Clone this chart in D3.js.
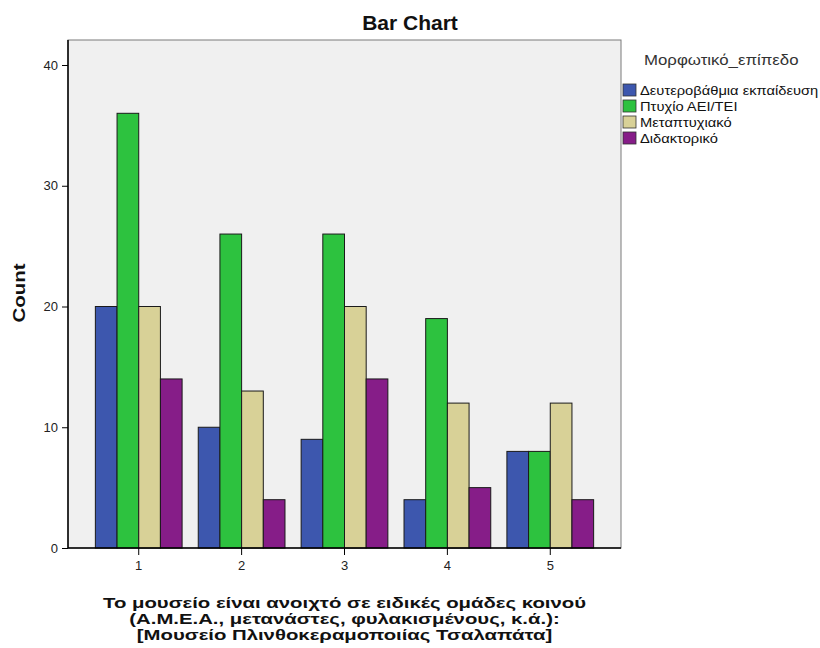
<!DOCTYPE html>
<html>
<head>
<meta charset="utf-8">
<script src="https://cdn.jsdelivr.net/npm/d3@7"></script>
<style>
  html, body { margin: 0; padding: 0; background: #ffffff; }
  svg { display: block; font-family: "Liberation Sans", Arial, sans-serif; }
</style>
</head>
<body>
<svg id="chart" width="820" height="648"></svg>
<script>
// ---- data ----
const categories = ["1", "2", "3", "4", "5"];
const seriesNames = ["Δευτεροβάθμια εκπαίδευση", "Πτυχίο ΑΕΙ/ΤΕΙ", "Μεταπτυχιακό", "Διδακτορικό"];
const secondaryEdu = [20, 10, 9, 4, 8];
const degreeAEI = [36, 26, 26, 19, 8];
const masters = [20, 13, 20, 12, 12];
const doctorate = [14, 4, 14, 5, 4];
const yTicks = [0, 10, 20, 30, 40];
const seriesColors = ["#3d57ae", "#2dc23f", "#d8d197", "#861d88"];
const chartTitle = "Bar Chart";
const legendTitle = "Μορφωτικό_επίπεδο";
const yTitle = "Count";
const xTitleLines = [
  "Το μουσείο είναι ανοιχτό σε ειδικές ομάδες κοινού",
  "(Α.Μ.Ε.Α., μετανάστες, φυλακισμένους, κ.ά.):",
  "[Μουσείο Πλινθοκεραμοποιίας Τσαλαπάτα]"
];

const seriesValues = [secondaryEdu, degreeAEI, masters, doctorate];
const rows = categories.map((c, i) => ({
  cat: c,
  vals: seriesNames.map((s, j) => ({ key: s, idx: j, value: seriesValues[j][i] }))
}));

// stretch text horizontally by a factor (keeps it real text)
function stretch(sel, factor) {
  sel.each(function () {
    const w = this.getComputedTextLength();
    d3.select(this).attr("textLength", w * factor).attr("lengthAdjust", "spacingAndGlyphs");
  });
}

const svg = d3.select("#chart");
const plot = { left: 68, right: 621, top: 40, bottom: 548 };

// plot background
svg.append("rect")
  .attr("x", plot.left).attr("y", plot.top)
  .attr("width", plot.right - plot.left).attr("height", plot.bottom - plot.top)
  .attr("fill", "#f0f0f0").attr("stroke", "#7a7a7a").attr("stroke-width", 1);

const x0 = d3.scaleBand().domain(categories).range([plot.left, plot.right])
  .paddingInner(0.157).paddingOuter(0.266);
const x1 = d3.scaleBand().domain(d3.range(seriesNames.length)).range([0, x0.bandwidth()]).padding(0);
const y = d3.scaleLinear().domain([0, 40]).range([plot.bottom, 65]);
const color = d3.scaleOrdinal().domain(d3.range(seriesNames.length)).range(seriesColors);

// bars
const groups = svg.append("g").selectAll("g").data(rows).join("g")
  .attr("transform", d => `translate(${x0(d.cat)},0)`);
groups.selectAll("rect").data(d => d.vals).join("rect")
  .attr("x", d => x1(d.idx))
  .attr("y", d => y(d.value))
  .attr("width", x1.bandwidth())
  .attr("height", d => plot.bottom - y(d.value))
  .attr("fill", d => color(d.idx))
  .attr("stroke", "#1a1a1a").attr("stroke-width", 1);

// axes
const yAxis = d3.axisLeft(y).tickValues(yTicks).tickSize(6).tickPadding(4);
const gy = svg.append("g").attr("transform", `translate(${plot.left},0)`).call(yAxis);
gy.select(".domain").remove();
gy.selectAll("text").attr("font-size", 13).attr("fill", "#222").attr("font-family", "Liberation Sans, Arial, sans-serif");
gy.selectAll("line").attr("stroke", "#000");

const xAxis = d3.axisBottom(x0).tickSize(7).tickPadding(6);
const gx = svg.append("g").attr("transform", `translate(0,${plot.bottom})`).call(xAxis);
gx.select(".domain").remove();
gx.selectAll("text").attr("font-size", 13).attr("fill", "#222").attr("font-family", "Liberation Sans, Arial, sans-serif");
gx.selectAll("line").attr("stroke", "#000");

// axis lines
svg.append("line").attr("x1", plot.left).attr("x2", plot.left).attr("y1", plot.top).attr("y2", plot.bottom)
  .attr("stroke", "#000").attr("stroke-width", 1.5);
svg.append("line").attr("x1", plot.left).attr("x2", plot.right).attr("y1", plot.bottom).attr("y2", plot.bottom)
  .attr("stroke", "#000").attr("stroke-width", 1.5);

// title
svg.append("text").attr("x", 410).attr("y", 30).attr("text-anchor", "middle")
  .attr("font-size", 21).attr("font-weight", "bold").attr("fill", "#111").text(chartTitle);

// y title
svg.append("text").attr("transform", "translate(25,293) rotate(-90)").attr("text-anchor", "middle")
  .attr("font-size", 17).attr("font-weight", "bold").attr("fill", "#111").text(yTitle)
  .call(stretch, 1.2);

// x title
const xt = svg.append("g").selectAll("text").data(xTitleLines).join("text")
  .attr("x", (plot.left + plot.right) / 2).attr("y", (d, i) => 608 + i * 16)
  .attr("text-anchor", "middle").attr("font-size", 14.5).attr("font-weight", "bold").attr("fill", "#111")
  .text(d => d);
const line1w = xt.nodes()[0].getComputedTextLength();
xt.call(stretch, 483 / line1w);

// legend
const lg = svg.append("g");
lg.append("text").attr("x", 644).attr("y", 65).attr("font-size", 14).attr("fill", "#333").text(legendTitle)
  .call(stretch, 1.2);
const items = lg.selectAll("g.item").data(seriesNames).join("g").attr("class", "item")
  .attr("transform", (d, i) => `translate(623,${90 + i * 16})`);
items.append("rect").attr("x", 0).attr("y", -6).attr("width", 13).attr("height", 12)
  .attr("fill", (d, i) => color(i)).attr("stroke", "#333").attr("stroke-width", 0.8);
items.append("text").attr("x", 17).attr("y", 5).attr("font-size", 13).attr("fill", "#111").text(d => d)
  .call(stretch, 1.13);
</script>
</body>
</html>
